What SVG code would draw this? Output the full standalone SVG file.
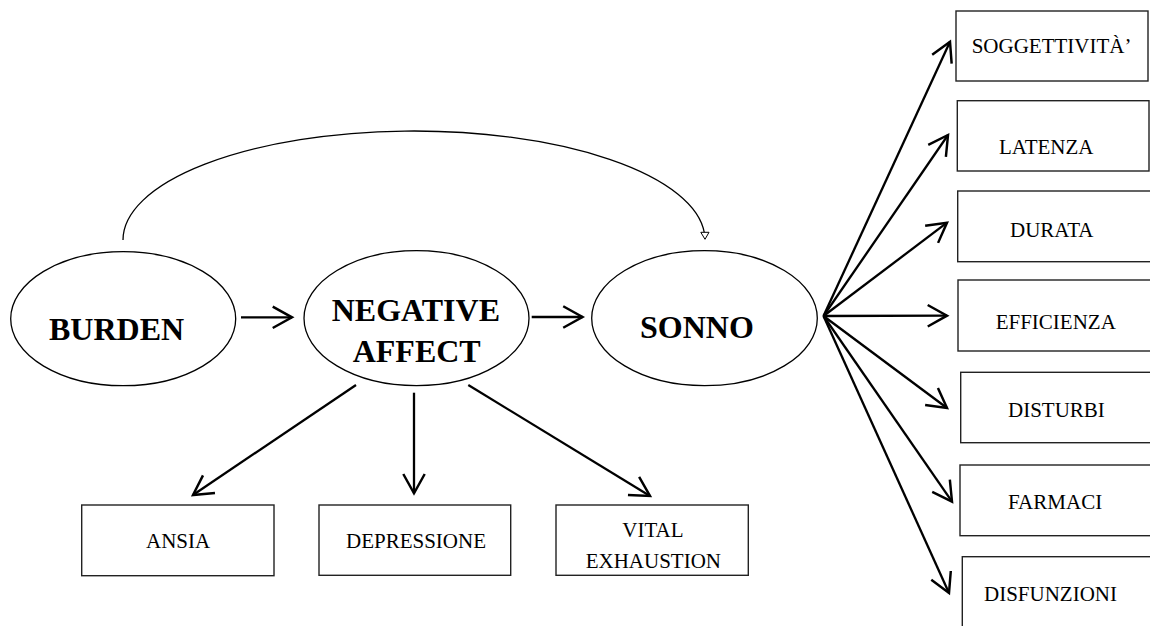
<svg xmlns="http://www.w3.org/2000/svg" width="1150" height="626" viewBox="0 0 1150 626">
<style>
.ell{fill:#fff;stroke:#000;stroke-width:1.3}
.box{fill:#fff;stroke:#222;stroke-width:1.4}
.big{font-family:"Liberation Serif","Times New Roman",serif;font-weight:bold;font-size:32px;fill:#000}
.lbl{font-family:"Liberation Serif","Times New Roman",serif;font-size:21px;fill:#000}
.arr{fill:none;stroke:#000;stroke-width:2.3;marker-end:url(#ah)}
</style>
<defs>
<marker id="ah" markerUnits="userSpaceOnUse" markerWidth="30" markerHeight="30" viewBox="-22 -14 26 28" refX="0" refY="0" orient="auto" overflow="visible">
<path d="M-18,-10 L0,0 L-18,10" fill="none" stroke="#000" stroke-width="2.3" stroke-linejoin="miter"/>
</marker>
</defs>
<rect width="1150" height="626" fill="#fff"/>
<g id="connectors">
<path d="M123,240 A291,109 0 0 1 704.4,233" fill="none" stroke="#000" stroke-width="1.3"/>
<polygon points="700.8,232.3 709,232.3 705,239.3" fill="#fff" stroke="#000" stroke-width="1"/>
<line class="arr" x1="241" y1="317.3" x2="292" y2="317.3"/>
<line class="arr" x1="531.7" y1="317" x2="582.5" y2="317"/>
<line class="arr" x1="356" y1="385" x2="193" y2="495"/>
<line class="arr" x1="414" y1="392.7" x2="414" y2="493.3"/>
<line class="arr" x1="468.3" y1="385" x2="650" y2="496"/>
<line class="arr" x1="823.5" y1="316" x2="950" y2="41.7"/>
<line class="arr" x1="823.5" y1="316" x2="948" y2="135"/>
<line class="arr" x1="823.5" y1="316" x2="947" y2="222.7"/>
<line class="arr" x1="823.5" y1="316" x2="947" y2="315.7"/>
<line class="arr" x1="823.5" y1="316" x2="947" y2="408"/>
<line class="arr" x1="823.5" y1="316" x2="952" y2="501.7"/>
<line class="arr" x1="823.5" y1="316" x2="949" y2="593"/>
</g>
<g id="burden">
<ellipse class="ell" cx="123.2" cy="318.7" rx="112.5" ry="67"/>
<text class="big" x="49" y="340">BURDEN</text>
</g>
<g id="negative-affect">
<ellipse class="ell" cx="416.5" cy="318.2" rx="112.5" ry="67.5"/>
<text class="big" x="331.7" y="321">NEGATIVE</text>
<text class="big" x="352.7" y="361.7">AFFECT</text>
</g>
<g id="sonno">
<ellipse class="ell" cx="704.5" cy="318.2" rx="112.8" ry="67.5"/>
<text class="big" x="640" y="338.3">SONNO</text>
</g>
<g id="ansia">
<rect class="box" x="81.7" y="505" width="192.3" height="70.7"/>
<text class="lbl" x="146" y="548.3">ANSIA</text>
</g>
<g id="depressione">
<rect class="box" x="319" y="505" width="191.7" height="70.3"/>
<text class="lbl" x="346" y="548.3">DEPRESSIONE</text>
</g>
<g id="vital-exhaustion">
<rect class="box" x="556" y="505" width="192.3" height="70.3"/>
<text class="lbl" x="622.3" y="536.7">VITAL</text>
<text class="lbl" x="585.7" y="568.3">EXHAUSTION</text>
</g>
<g id="soggettivita">
<rect class="box" x="956" y="11" width="192" height="70"/>
<text class="lbl" x="971.7" y="53">SOGGETTIVITÀ’</text>
</g>
<g id="latenza">
<rect class="box" x="957.3" y="100.7" width="191.7" height="70.3"/>
<text class="lbl" x="999" y="154">LATENZA</text>
</g>
<g id="durata">
<rect class="box" x="957.7" y="191" width="200" height="70.7"/>
<text class="lbl" x="1010" y="237.3">DURATA</text>
</g>
<g id="efficienza">
<rect class="box" x="958" y="280" width="200" height="71"/>
<text class="lbl" x="995.7" y="329">EFFICIENZA</text>
</g>
<g id="disturbi">
<rect class="box" x="960.7" y="372.3" width="200" height="70.4"/>
<text class="lbl" x="1008" y="417.3">DISTURBI</text>
</g>
<g id="farmaci">
<rect class="box" x="960" y="465" width="200" height="70.7"/>
<text class="lbl" x="1008" y="509">FARMACI</text>
</g>
<g id="disfunzioni">
<rect class="box" x="962.3" y="556.7" width="200" height="75"/>
<text class="lbl" x="984" y="601">DISFUNZIONI</text>
</g>
</svg>
